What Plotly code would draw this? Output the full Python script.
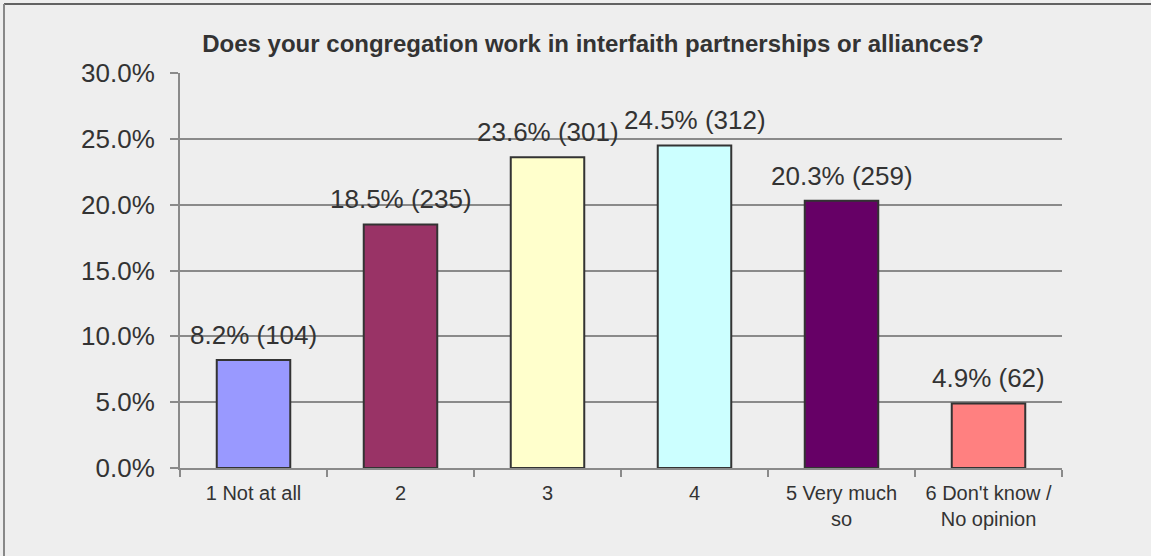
import plotly.graph_objects as go

# survey answers, share of congregations and counts
categories = ["1 Not at all", "2", "3", "4", "5 Very much<br>so", "6 Don't know /<br>No opinion"]
percents = [8.2, 18.5, 23.6, 24.5, 20.3, 4.9]
counts = [104, 235, 301, 312, 259, 62]
bar_colors = ["#9999ff", "#993366", "#ffffcc", "#ccffff", "#660066", "#ff8080"]
y_ticks = [0, 5, 10, 15, 20, 25, 30]

TEXT = "#333333"
GRID = "#8a8a8a"
FONT = "Liberation Sans, Arial, sans-serif"

fig = go.Figure()

fig.add_trace(
    go.Bar(
        x=categories,
        y=percents,
        marker=dict(color=bar_colors, line=dict(color="#333333", width=2)),
        hoverinfo="x+y",
    )
)

# labels sit above each bar, e.g. "8.2% (104)"
# (x given by position: "2", "3", "4" would otherwise be read as indices)
for i, (pct, n) in enumerate(zip(percents, counts)):
    fig.add_annotation(
        x=i,
        y=pct,
        text=f"{pct:.1f}% ({n})",
        showarrow=False,
        yanchor="bottom",
        yshift=8,
        font=dict(family=FONT, size=26, color=TEXT),
    )

fig.update_layout(
    width=1151,
    height=556,
    paper_bgcolor="#eeeeee",
    plot_bgcolor="#eeeeee",
    margin=dict(l=180, r=89, t=73, b=88),
    bargap=0.5,
    showlegend=False,
    font=dict(family=FONT, color=TEXT),
    title=dict(
        text="Does your congregation work in interfaith partnerships or alliances?",
        x=593 / 1151,
        xanchor="center",
        y=1 - 44 / 556,
        yanchor="middle",
        font=dict(family=FONT, size=24, color=TEXT, weight="bold"),
    ),
    xaxis=dict(
        type="category",
        tickson="boundaries",
        ticks="outside",
        ticklen=7,
        tickwidth=2,
        tickcolor=GRID,
        showline=True,
        linecolor=GRID,
        linewidth=2,
        showgrid=False,
        tickfont=dict(family=FONT, size=20, color=TEXT),
        ticklabelstandoff=6,
    ),
    yaxis=dict(
        range=[0, 30],
        tickvals=y_ticks,
        ticktext=[f"{v:.1f}%" for v in y_ticks],
        ticks="outside",
        ticklen=8,
        tickwidth=2,
        tickcolor=GRID,
        showline=True,
        linecolor=GRID,
        linewidth=2,
        showgrid=True,
        gridcolor=GRID,
        gridwidth=2,
        zeroline=False,
        tickfont=dict(family=FONT, size=26, color=TEXT),
        ticklabelstandoff=10,
    ),
)

# frame lines along the top and left edges of the picture
fig.add_shape(type="line", xref="paper", yref="paper",
              x0=(4 - 180) / 882, x1=(1151 - 180) / 882,
              y0=(468 - 4) / 395, y1=(468 - 4) / 395,
              line=dict(color="#333333", width=1.5))
fig.add_shape(type="line", xref="paper", yref="paper",
              x0=(4 - 180) / 882, x1=(4 - 180) / 882,
              y0=(468 - 4) / 395, y1=(468 - 556) / 395,
              line=dict(color="#888888", width=2))

# drop the default page margin so the figure starts at the window corner
fig.write_html(
    "out.html",
    config={"displayModeBar": False},
    post_script="document.body.style.margin='0';document.body.style.overflow='hidden';",
)
